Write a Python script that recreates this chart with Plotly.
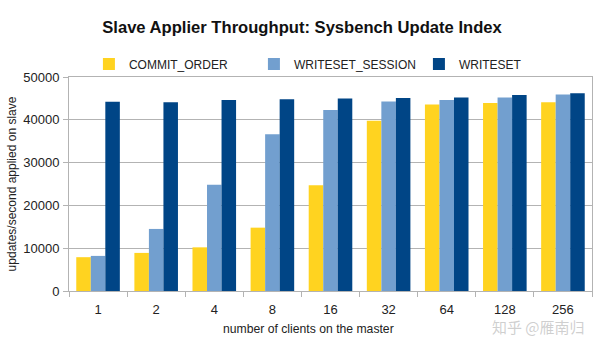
import plotly.graph_objects as go

categories = ["1", "2", "4", "8", "16", "32", "64", "128", "256"]
commit_order = [7900, 8900, 10200, 14800, 24700, 39800, 43600, 43900, 44100]
writeset_session = [8200, 14500, 24800, 36600, 42300, 44300, 44600, 45200, 45900]
writeset = [44200, 44100, 44600, 44800, 45000, 45100, 45200, 45800, 46200]

series = [
    ("COMMIT_ORDER", commit_order, "#FFD320"),
    ("WRITESET_SESSION", writeset_session, "#729FCF"),
    ("WRITESET", writeset, "#004586"),
]

fig = go.Figure()
for name, vals, color in series:
    fig.add_trace(go.Bar(x=categories, y=vals, name=name,
                         marker=dict(color=color, line=dict(width=0))))

font = "Liberation Sans, Arial, sans-serif"
W, H = 604, 340
L, R, T, B = 68, 11, 77, 49
PH = H - T - B
PW = W - L - R

fig.update_layout(
    width=W, height=H,
    margin=dict(l=L, r=R, t=T, b=B),
    paper_bgcolor="white", plot_bgcolor="white",
    font=dict(family=font, size=12, color="#222"),
    barmode="group", bargap=0.25, bargroupgap=0,
    title=dict(text="<b>Slave Applier Throughput: Sysbench Update Index</b>",
               x=0.5, xref="container", xanchor="center", y=1 - 27/H, yanchor="middle",
               font=dict(size=16.6, color="#111", family=font)),
    legend=dict(orientation="h", x=(88 - L)/PW, xanchor="left", y=1 + (T - 64)/PH, yanchor="middle",
                font=dict(size=12, color="#222"), entrywidth=120, entrywidthmode="pixels",
                bgcolor="rgba(0,0,0,0)"),
    showlegend=True,
)
fig.update_xaxes(
    type="category", showline=True, mirror=True, linecolor="#b3b3b3", linewidth=1,
    ticks="outside", tickson="boundaries", ticklen=5, tickcolor="#b3b3b3",
    showgrid=False, tickfont=dict(size=13, color="#222"), ticklabelstandoff=6,
)
fig.update_yaxes(
    range=[0, 50000], dtick=10000, tickformat="d", showline=True, mirror=True,
    linecolor="#b3b3b3", linewidth=1,
    ticks="outside", ticklen=5, tickcolor="#b3b3b3", showgrid=True, gridcolor="#b3b3b3",
    gridwidth=1, zeroline=False, tickfont=dict(size=13, color="#222"), ticklabelstandoff=1,
    title=dict(text="updates/second applied on slave", font=dict(size=12, color="#222"), standoff=4),
)
fig.add_annotation(text="number of clients on the master", xref="paper", yref="paper",
                   x=(308 - L)/PW, xanchor="center", y=-(329 - (H - B))/PH, yanchor="middle",
                   showarrow=False, font=dict(size=12.2, color="#222"))
fig.add_annotation(text="知乎 @雁南归", xref="paper", yref="paper",
                   x=(588 - L)/PW, xanchor="right", y=-(326 - (H - B))/PH, yanchor="middle",
                   showarrow=False,
                   font=dict(size=15, color="rgba(160,160,160,0.5)", family="Noto Sans CJK SC"))

fig.write_html("out.html")
